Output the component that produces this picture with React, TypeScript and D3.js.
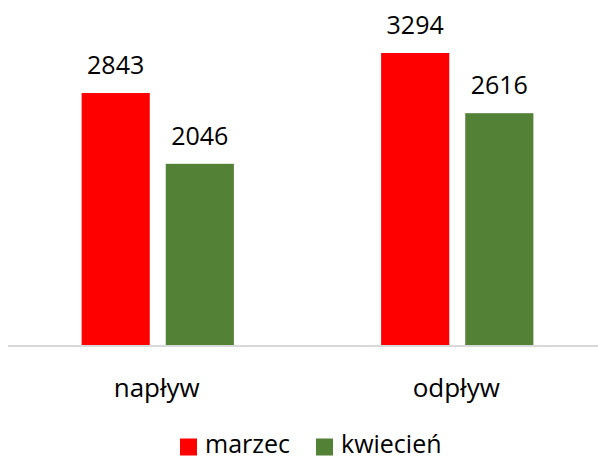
import React from "react";
import * as d3 from "d3";

const categories = ["napływ", "odpływ"];
const seriesNames = ["marzec", "kwiecień"];
const marzec = [2843, 3294];
const kwiecien = [2046, 2616];
const seriesColors = ["#ff0000", "#538135"];

const W = 598;
const H = 459;
const FONT = "'Open Sans', 'Liberation Sans', Arial, sans-serif";

export default function App() {
  const values = [marzec, kwiecien];
  const x0 = d3.scaleBand<string>().domain(categories).range([7, 606]).padding(0);
  const x1 = d3
    .scaleBand<string>()
    .domain(seriesNames)
    .range([0, x0.bandwidth()])
    .paddingInner(0.19)
    .paddingOuter(0.875);
  const y = d3.scaleLinear().domain([0, 3500]).range([345.5, 34.7]);

  return (
    <svg
      width={W}
      height={H}
      style={{ position: "absolute", left: 0, top: 0, background: "#fff" }}
    >
      <rect x={0} y={0} width={W} height={H} fill="#fff" />
      {categories.map((c, ci) => (
        <g key={c} transform={`translate(${(x0(c) ?? 0) + 1},0)`}>
          {seriesNames.map((s, si) => {
            const v = values[si][ci];
            const bx = x1(s) ?? 0;
            return (
              <g key={s}>
                <rect
                  x={bx}
                  y={y(v)}
                  width={x1.bandwidth()}
                  height={y(0) - y(v)}
                  fill={seriesColors[si]}
                />
                <text
                  x={bx + x1.bandwidth() / 2}
                  y={y(v) - 19}
                  textAnchor="middle"
                  fontFamily={FONT}
                  fontSize={25}
                  fill="#000"
                >
                  {v}
                </text>
              </g>
            );
          })}
        </g>
      ))}
      <line x1={8} x2={W} y1={346} y2={346} stroke="#d9d9d9" strokeWidth={2} />
      {categories.map((c) => (
        <text
          key={c}
          x={(x0(c) ?? 0) + x0.bandwidth() / 2}
          y={396.5}
          textAnchor="middle"
          fontFamily={FONT}
          fontSize={26}
          fill="#000"
        >
          {c}
        </text>
      ))}
      {seriesNames.map((s, si) => {
        const lx = [180, 316][si];
        return (
          <g key={s}>
            <rect x={lx} y={438.5} width={17} height={17} fill={seriesColors[si]} />
            <text
              x={lx + 25}
              y={452.5}
              fontFamily={FONT}
              fontSize={25}
              fill="#000"
            >
              {s}
            </text>
          </g>
        );
      })}
    </svg>
  );
}
